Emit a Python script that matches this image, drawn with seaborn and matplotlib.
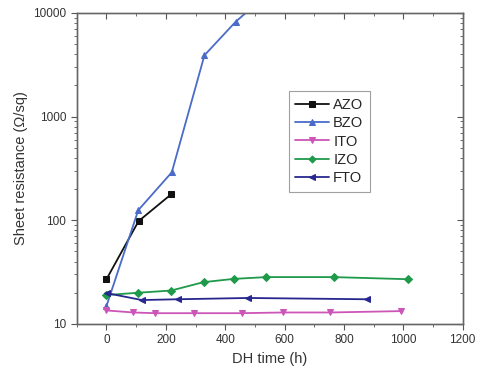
import matplotlib
matplotlib.use("Agg")
import matplotlib.pyplot as plt
import pandas as pd
import seaborn as sns
from matplotlib.ticker import LogLocator, NullFormatter, MultipleLocator

# DH time (h) and sheet resistance (ohm/sq) for each film
azo_t = [0, 108, 218]
azo_r = [27, 98, 178]

bzo_t = [0, 107, 220, 330, 435, 540]
bzo_r = [14.9, 125, 290, 3900, 8200, 15000]

ito_t = [0, 90, 163, 296, 455, 596, 752, 993]
ito_r = [13.5, 12.9, 12.7, 12.7, 12.7, 12.9, 12.9, 13.3]

izo_t = [0, 107, 218, 327, 429, 538, 766, 1015]
izo_r = [19, 20, 21, 25.3, 27.2, 28.3, 28.3, 27]

fto_t = [2, 119, 240, 477, 877]
fto_r = [19.8, 17, 17.3, 17.8, 17.3]

SERIES = [
    ("AZO", azo_t, azo_r, "#111111", "s"),
    ("BZO", bzo_t, bzo_r, "#4a6bc8", "^"),
    ("ITO", ito_t, ito_r, "#cc55b8", "v"),
    ("IZO", izo_t, izo_r, "#1f9a4a", "D"),
    ("FTO", fto_t, fto_r, "#27278f", "<"),
]

XLIM = (-100, 1200)
YLIM = (10, 10000)

sns.set_theme(style="ticks")
plt.rcParams["font.family"] = ["Liberation Sans", "DejaVu Sans"]

fig = plt.figure(figsize=(4.8, 3.78), dpi=100)
ax = fig.add_axes([0.160, 0.143, 0.804, 0.823])

for name, t, r, color, marker in SERIES:
    df = pd.DataFrame({"time": t, "res": r})
    sns.lineplot(
        data=df, x="time", y="res", ax=ax, color=color, marker=marker,
        markersize=5 if marker != "D" else 4.2, markeredgecolor=color,
        linewidth=1.3, sort=False, label=name,
    )

ax.set_yscale("log")
ax.set_xlim(*XLIM)
ax.set_ylim(*YLIM)
ax.xaxis.set_major_locator(MultipleLocator(200))
ax.xaxis.set_minor_locator(MultipleLocator(100))
ax.set_yticks([10, 100, 1000, 10000])
ax.set_yticklabels(["10", "100", "1000", "10000"])
ax.yaxis.set_minor_locator(LogLocator(base=10, subs=range(2, 10)))
ax.yaxis.set_minor_formatter(NullFormatter())

ax.tick_params(axis="both", which="major", labelsize=8.5, length=4, width=0.8,
               color="#555555", labelcolor="#333333", direction="out")
ax.tick_params(axis="both", which="minor", length=2, width=0.6, color="#555555",
               direction="out")

# inward ticks on the top and right frame
ax_r = ax.twinx()
ax_r.set_yscale("log")
ax_r.set_ylim(*YLIM)
ax_r.set_yticks([10, 100, 1000, 10000])
ax_r.yaxis.set_minor_locator(LogLocator(base=10, subs=range(2, 10)))
ax_r.tick_params(which="major", direction="in", length=4, width=0.8, color="#555555",
                 labelright=False)
ax_r.tick_params(which="minor", direction="in", length=2, width=0.6, color="#555555")
ax_r.yaxis.set_minor_formatter(NullFormatter())

ax_t = ax.twiny()
ax_t.set_xlim(*XLIM)
ax_t.xaxis.set_major_locator(MultipleLocator(200))
ax_t.xaxis.set_minor_locator(MultipleLocator(100))
ax_t.tick_params(which="major", direction="in", length=4, width=0.8, color="#555555",
                 labeltop=False)
ax_t.tick_params(which="minor", direction="in", length=2, width=0.6, color="#555555")

for a in (ax, ax_r, ax_t):
    for sp in a.spines.values():
        sp.set_visible(True)
        sp.set_color("#666666")
        sp.set_linewidth(0.9)

ax.set_xlabel("DH time (h)", fontsize=10.5, color="#333333")
ax.set_ylabel("Sheet resistance (\u03a9/sq)", fontsize=10.5, color="#333333")

handles, labels = ax.get_legend_handles_labels()
ax.get_legend().remove()
leg = ax_t.legend(handles, labels, loc="upper left", bbox_to_anchor=(0.549, 0.748),
                  bbox_transform=ax.transAxes, borderaxespad=0, fontsize=10.5,
                  frameon=True, fancybox=False, handlelength=2.3, handletextpad=0.3,
                  borderpad=0.45, labelspacing=0.3, markerscale=0.85)
leg.get_frame().set_edgecolor("#888888")
leg.get_frame().set_linewidth(0.8)

fig.savefig("out.png", dpi=100)
